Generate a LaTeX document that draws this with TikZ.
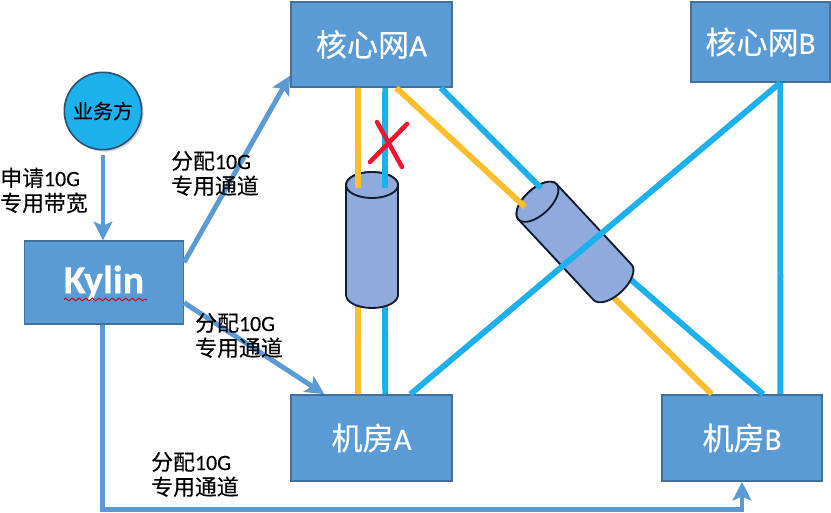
\documentclass[tikz,border=0pt]{standalone}
\usepackage{fontspec}
\setmainfont[FakeBold=0.2]{Carlito}
\newfontfamily\cjk[FakeBold=0.25]{Noto Sans CJK SC}
\usetikzlibrary{arrows.meta,calc,shadows,decorations.pathmorphing}
\definecolor{boxfill}{HTML}{5B9BD5}
\definecolor{boxline}{HTML}{41719C}
\definecolor{skyline}{HTML}{1CB0EC}
\definecolor{amberline}{HTML}{FFBE2E}
\definecolor{cylfill}{HTML}{8FAADC}
\definecolor{cylline}{HTML}{101C30}
\definecolor{crossred}{HTML}{F5142F}
\tikzset{
  x=0.75pt,y=-0.75pt,
  netbox/.style={draw=boxline,line width=1.2pt,fill=boxfill,text=white,inner sep=0pt,
    font=\fontsize{23.3}{26}\selectfont},
  note/.style={anchor=west,align=left,inner sep=0pt,text=black,
    font=\fontsize{16.4}{18.75}\selectfont},
  flow/.style={draw=boxfill,line width=3.7pt,-{Stealth[length=14pt,width=14pt,inset=3pt]}},
  skywire/.style={draw=skyline,line width=4.4pt},
  amberwire/.style={draw=amberline,line width=4.4pt},
  cylbody/.style={draw=cylline,line width=1.4pt,fill=cylfill,line join=round},
  redmark/.style={draw=crossred,line width=3.4pt,line cap=round},
}
\newcommand{\cylshape}{%
  \path[cylbody] (-26,-55) -- (-26,55) arc[start angle=180,end angle=360,x radius=26,y radius=-13]
    -- (26,-55) arc[start angle=0,end angle=180,x radius=26,y radius=-13] -- cycle;
  \path[cylbody] (0,-55) ellipse[x radius=26,y radius=13];
}
\begin{document}
\begin{tikzpicture}
\useasboundingbox (0,0) rectangle (831,513);
% boxes
\node[netbox,minimum width=121pt,minimum height=63.75pt] (coreA) at (371.5,44.5) {{\cjk 核心网}A};
\node[netbox,minimum width=104.25pt,minimum height=60pt] (coreB) at (760.5,42) {{\cjk 核心网}B};
\node[netbox,minimum width=121pt,minimum height=64.5pt] (roomA) at (371.5,438) {{\cjk 机房}A};
\node[netbox,minimum width=120pt,minimum height=64.5pt] (roomB) at (742,438) {{\cjk 机房}B};
\node[netbox,minimum width=119pt,minimum height=62pt,font=\fontsize{30}{32}\selectfont\bfseries] (kylin) at (104,282.5) {\raisebox{-3pt}{Kylin}};
\node[circle,draw=boxline!70!black,line width=1.2pt,fill=skyline,minimum size=58pt,inner sep=0pt,
  drop shadow={shadow xshift=1.5pt,shadow yshift=-1.5pt,opacity=.35},
  font=\fontsize{15}{16}\selectfont\cjk] (client) at (103,111) {业务方};
% spell-check squiggle under Kylin
\coordinate (sqA) at ($(kylin.center)+(-40,17)$);
\coordinate (sqB) at ($(kylin.center)+(43,17)$);
\draw[draw=crossred!80!black,line width=0.8pt,decorate,decoration={zigzag,segment length=5pt,amplitude=1pt}] (sqA) -- (sqB);
% cylinder reference points
\coordinate (cylOne) at (372,240);
\coordinate (cylTwo) at (575,242);
% wires leaving the lower side of the cylinders (below them)
\coordinate (oneAmberLow) at (358,300);
\coordinate (oneSkyLow) at (385,300);
\coordinate (twoAmberLow) at (604,288);
\coordinate (twoSkyLow) at (622,272);
\draw[amberwire] (oneAmberLow) -- ($(roomA.north west)!0.416!(roomA.north east)$);
\draw[skywire] (oneSkyLow) -- ($(roomA.north west)!0.584!(roomA.north east)$);
\draw[amberwire] (twoAmberLow) -- ($(roomB.north west)!0.3125!(roomB.north east)$);
\draw[skywire] (twoSkyLow) -- ($(roomB.north west)!0.631!(roomB.north east)$);
% cylinders
\begin{scope}[shift={(cylOne)}]\cylshape\end{scope}
\begin{scope}[shift={(cylTwo)},rotate=43]\cylshape\end{scope}
% wires entering the upper side of the cylinders
\coordinate (oneAmberTop) at (358,188);
\coordinate (oneSkyTop) at (385,188);
\coordinate (twoAmberTop) at (525,207);
\coordinate (twoSkyTop) at (541,188);
\draw[amberwire] ($(coreA.south west)!0.416!(coreA.south east)$) -- (oneAmberTop);
\draw[skywire] ($(coreA.south west)!0.584!(coreA.south east)$) -- (oneSkyTop);
\draw[amberwire] ($(coreA.south west)!0.652!(coreA.south east)$) -- (twoAmberTop);
\draw[skywire] ($(coreA.south west)!0.925!(coreA.south east)$) -- (twoSkyTop);
% long wires
\draw[skywire] ($(coreB.south west)!0.64!(coreB.south east)$) -- ($(roomA.north west)!0.739!(roomA.north east)$);
\draw[skywire] ($(coreB.south west)!0.64!(coreB.south east)$) -- ($(roomB.north west)!0.7375!(roomB.north east)$);
% red cross
\coordinate (xa) at (370,162);
\coordinate (xb) at (407,124);
\coordinate (xc) at (377,122);
\coordinate (xd) at (402,167);
\draw[redmark] (xa) -- (xb);
\draw[redmark] (xc) -- (xd);
% flows
\draw[flow] (client.south|-0,155) -- (client.south|-kylin.north);
\draw[flow] ($(kylin.north east)!0.26!(kylin.south east)$) -- ($(coreA.north west)!0.86!(coreA.south west)$);
\draw[flow] ($(kylin.north east)!0.74!(kylin.south east)$) -- ($(roomA.north west)!0.21!(roomA.north east)$);
\draw[flow] ($(kylin.south west)!0.49!(kylin.south east)$) -- ++(0,185) -| (roomB.south);
% notes
\node[note] (noteRequest) at (0,190.5) {{\cjk 申请}10G\\{\cjk 专用带宽}};
\node[note] (noteCore) at (171,173.5) {{\cjk 分配}10G\\{\cjk 专用通道}};
\node[note] (noteRoomA) at (195,335.5) {{\cjk 分配}10G\\{\cjk 专用通道}};
\node[note] (noteRoomB) at (151,474.5) {{\cjk 分配}10G\\{\cjk 专用通道}};
\end{tikzpicture}
\end{document}
